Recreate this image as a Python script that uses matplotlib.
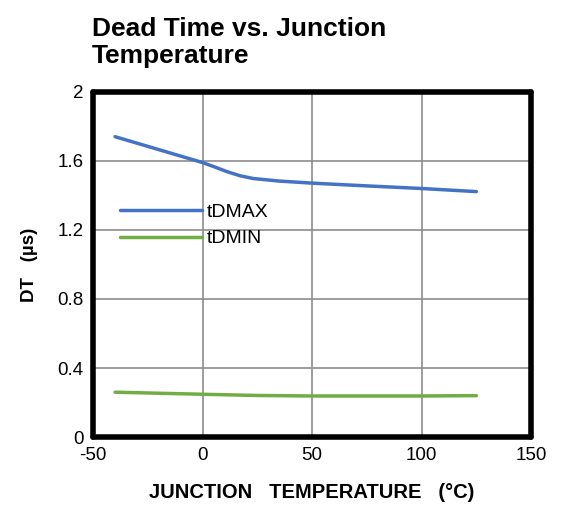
import matplotlib
matplotlib.use("Agg")
import matplotlib.pyplot as plt

plt.rcParams['font.family'] = ['Liberation Sans', 'DejaVu Sans']
plt.rcParams['axes.unicode_minus'] = False

temp = [-40, -20, 0, 5, 11, 17, 23, 35, 50, 75, 100, 125]
tdmax = [1.74, 1.665, 1.59, 1.567, 1.538, 1.514, 1.498, 1.483, 1.471, 1.455, 1.44, 1.422]
temp_min = [-40, 0, 25, 50, 100, 125]
tdmin = [0.26, 0.248, 0.241, 0.238, 0.238, 0.24]

xticks = [-50, 0, 50, 100, 150]
yticks = [0, 0.4, 0.8, 1.2, 1.6, 2.0]
ytick_labels = ['0', '0.4', '0.8', '1.2', '1.6', '2']

fig = plt.figure(figsize=(5.65, 5.13), dpi=100)
ax = fig.add_axes([0.165, 0.148, 0.775, 0.673])

ax.plot(temp, tdmax, color='#4472C4', lw=2.5, label='tDMAX',
        solid_capstyle='round', solid_joinstyle='round')
ax.plot(temp_min, tdmin, color='#70AD47', lw=2.5, label='tDMIN',
        solid_capstyle='round', solid_joinstyle='round')

ax.set_xlim(-50, 150)
ax.set_ylim(0, 2)
ax.set_xticks(xticks)
ax.set_yticks(yticks)
ax.set_yticklabels(ytick_labels)
ax.tick_params(length=0, labelsize=13.5, pad=7)
ax.grid(True, color='#8c8c8c', lw=1.2)
ax.set_axisbelow(True)
for s in ax.spines.values():
    s.set_linewidth(4)
    s.set_color('black')
    s.set_capstyle('round')

ax.set_xlabel('JUNCTION   TEMPERATURE   (°C)', fontsize=14.5, fontweight='bold', labelpad=14)
ax.set_ylabel('DT   (µs)', fontsize=13.5, fontweight='bold', labelpad=14)

leg = ax.legend(loc='upper left', bbox_to_anchor=(0.04, 0.705), frameon=False,
                fontsize=14, handlelength=4.2, handletextpad=0.25, labelspacing=0.45,
                borderpad=0)

fig.text(0.163, 0.868, 'Dead Time vs. Junction\nTemperature', fontsize=19,
         fontweight='bold', ha='left', va='bottom', linespacing=1.15)

fig.savefig('out.png', dpi=100)
